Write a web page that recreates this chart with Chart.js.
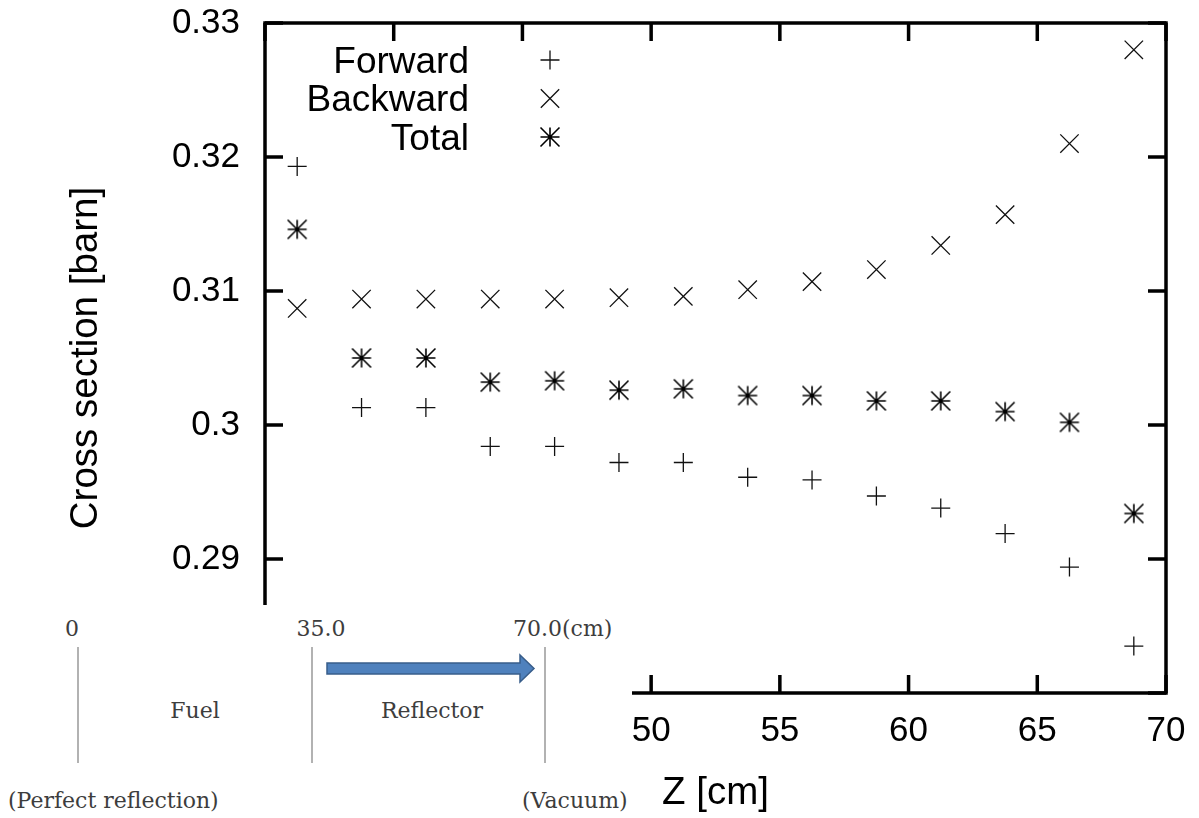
<!DOCTYPE html>
<html>
<head>
<meta charset="utf-8">
<script src="https://cdn.jsdelivr.net/npm/chart.js@4.4.1/dist/chart.umd.min.js"></script>
<style>
  body { margin: 0; background: #fff; }
  #wrap { position: relative; width: 1199px; height: 818px; }
  #diagram { position: absolute; left: 0; top: 605px; width: 632px; height: 213px; background: #fff; }
  #diagram text { font-family: 'DejaVu Serif', serif; font-size: 22px; fill: #3d3d3d; }
</style>
</head>
<body>
<div id="wrap">
  <canvas id="xsChart" width="1199" height="818"></canvas>
  <!-- slab geometry sketch pasted over the lower left corner -->
  <div id="diagram">
    <svg width="632" height="213" xmlns="http://www.w3.org/2000/svg">
      <line x1="78" y1="42" x2="78" y2="158" stroke="#999" stroke-width="1.5"/>
      <line x1="312" y1="42" x2="312" y2="158" stroke="#999" stroke-width="1.5"/>
      <line x1="545" y1="42" x2="545" y2="158" stroke="#999" stroke-width="1.5"/>
      <polygon points="327,58 520,58 520,50 534,63.5 520,77 520,69 327,69" fill="#4f81bd" stroke="#385d8a" stroke-width="1.5"/>
      <text x="72" y="31" text-anchor="middle">0</text>
      <text x="321" y="31" text-anchor="middle">35.0</text>
      <text x="513" y="31">70.0(cm)</text>
      <text x="195" y="113" text-anchor="middle">Fuel</text>
      <text x="432" y="113" text-anchor="middle">Reflector</text>
      <text x="8" y="203">(Perfect reflection)</text>
      <text x="522" y="203">(Vacuum)</text>
    </svg>
  </div>
</div>
<script>
// bin centres along Z (cm)
const zCenters = [36.25, 38.75, 41.25, 43.75, 46.25, 48.75, 51.25, 53.75, 56.25, 58.75, 61.25, 63.75, 66.25, 68.75];

// cross sections (barn)
const forward  = [0.3193, 0.3013, 0.3013, 0.2984, 0.2984, 0.2972, 0.2972, 0.2961, 0.2959, 0.2947, 0.2938, 0.2919, 0.2894, 0.2835];
const backward = [0.3087, 0.3094, 0.3094, 0.3094, 0.3094, 0.3095, 0.3096, 0.3101, 0.3107, 0.3116, 0.3134, 0.3157, 0.3210, 0.3280];
const total    = [0.3146, 0.3050, 0.3050, 0.3032, 0.3033, 0.3026, 0.3027, 0.3022, 0.3022, 0.3018, 0.3018, 0.3010, 0.3002, 0.2934];

const seriesNames = ['Forward', 'Backward', 'Total'];

// axis ticks
const xTickValues = [35, 40, 45, 50, 55, 60, 65, 70];
const xTickLabels = ['35', '40', '45', '50', '55', '60', '65', '70'];
const yTickValues = [0.28, 0.29, 0.30, 0.31, 0.32, 0.33];
const yTickLabels = ['0.28', '0.29', '0.3', '0.31', '0.32', '0.33'];

const FONT = "'Liberation Sans', Arial, sans-serif";
const INK = '#111';

// gnuplot style asterisk: + and x with the same box
function makeStar(r) {
    const c = document.createElement('canvas');
    const s = 24;
    c.width = s; c.height = s;
    const g = c.getContext('2d');
    const m = s / 2;
    g.strokeStyle = '#000';
    g.lineWidth = 1.6;
    g.beginPath();
    g.moveTo(m - r, m); g.lineTo(m + r, m);
    g.moveTo(m, m - r); g.lineTo(m, m + r);
    g.moveTo(m - r, m - r); g.lineTo(m + r, m + r);
    g.moveTo(m - r, m + r); g.lineTo(m + r, m - r);
    g.stroke();
    return c;
}
const starImg = makeStar(9.5);

function toPoints(values) {
    return zCenters.map((z, i) => ({ x: z, y: values[i] }));
}

const markerStyles = [
    { pointStyle: 'cross', pointRadius: 9.5 },
    { pointStyle: 'crossRot', pointRadius: 13 },
    { pointStyle: starImg, pointRadius: 10 }
];

// frame with inward ticks on all four sides
const frameTicks = {
    id: 'frameTicks',
    afterDraw(chart) {
        const { ctx, chartArea: a, scales } = chart;
        const len = 18;
        ctx.save();
        ctx.strokeStyle = '#000';
        ctx.lineWidth = 3.5;
        ctx.strokeRect(a.left, a.top, a.right - a.left, a.bottom - a.top);
        ctx.beginPath();
        xTickValues.forEach(v => {
            const px = scales.x.getPixelForValue(v);
            ctx.moveTo(px, a.bottom); ctx.lineTo(px, a.bottom - len);
            ctx.moveTo(px, a.top); ctx.lineTo(px, a.top + len);
        });
        yTickValues.forEach(v => {
            const py = scales.y.getPixelForValue(v);
            ctx.moveTo(a.left, py); ctx.lineTo(a.left + len, py);
            ctx.moveTo(a.right, py); ctx.lineTo(a.right - len, py);
        });
        ctx.stroke();
        ctx.restore();
    }
};

// key in the top left corner: label right aligned, marker to the right
const keyBox = {
    id: 'keyBox',
    afterDraw(chart) {
        const ctx = chart.ctx;
        ctx.save();
        ctx.font = '37px ' + FONT;
        ctx.fillStyle = '#000';
        ctx.textAlign = 'right';
        ctx.textBaseline = 'alphabetic';
        chart.data.datasets.forEach((ds, i) => {
            const rowY = 60 + i * 38.5;
            ctx.fillText(ds.label, 469, rowY + 12.5);
            ctx.strokeStyle = INK;
            ctx.lineWidth = 1.3;
            Chart.helpers.drawPoint(ctx, {
                pointStyle: ds.pointStyle,
                radius: ds.pointRadius,
                rotation: 0,
                borderWidth: 1.3
            }, 550, rowY);
        });
        ctx.restore();
    }
};

const ctx = document.getElementById('xsChart').getContext('2d');
new Chart(ctx, {
    type: 'scatter',
    data: {
        datasets: [forward, backward, total].map((vals, i) => ({
            label: seriesNames[i],
            data: toPoints(vals),
            pointStyle: markerStyles[i].pointStyle,
            pointRadius: markerStyles[i].pointRadius,
            pointHoverRadius: markerStyles[i].pointRadius,
            borderColor: INK,
            backgroundColor: INK,
            borderWidth: 1.3,
            showLine: false
        }))
    },
    options: {
        responsive: false,
        animation: false,
        layout: { padding: { top: 23, right: 33, left: 0, bottom: 0 } },
        plugins: {
            legend: { display: false },
            tooltip: { enabled: false }
        },
        scales: {
            x: {
                type: 'linear',
                min: 35,
                max: 70,
                afterBuildTicks: s => { s.ticks = xTickValues.map(v => ({ value: v })); },
                afterFit: s => {
                    s.height = 125;
                    s.paddingLeft = 0;
                    s.paddingRight = 0;
                },
                grid: { display: false, drawTicks: false },
                border: { display: false },
                ticks: {
                    padding: 17,
                    color: '#000',
                    font: { family: FONT, size: 35 },
                    maxRotation: 0,
                    callback: (v, i) => xTickLabels[i]
                },
                title: {
                    display: true,
                    text: 'Z [cm]',
                    color: '#000',
                    font: { family: FONT, size: 38.5 },
                    padding: { top: 0, bottom: 2 }
                }
            },
            y: {
                min: 0.28,
                max: 0.33,
                afterBuildTicks: s => { s.ticks = yTickValues.map(v => ({ value: v })); },
                afterFit: s => {
                    s.width = 265;
                    s.paddingTop = 0;
                    s.paddingBottom = 0;
                },
                grid: { display: false, drawTicks: false },
                border: { display: false },
                ticks: {
                    padding: 25,
                    color: '#000',
                    font: { family: FONT, size: 35 },
                    callback: (v, i) => yTickLabels[i]
                },
                title: {
                    display: true,
                    text: 'Cross section [barn]',
                    color: '#000',
                    font: { family: FONT, size: 38.5 },
                    padding: { top: 63, bottom: 0 }
                }
            }
        }
    },
    plugins: [frameTicks, keyBox]
});
</script>
</body>
</html>
